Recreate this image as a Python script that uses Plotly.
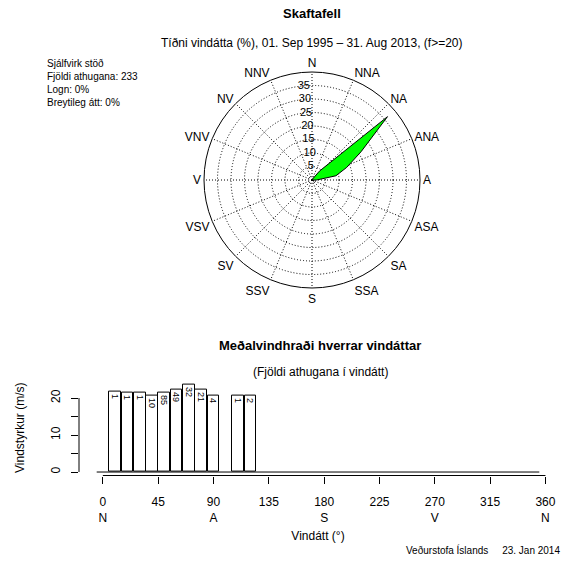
import plotly.graph_objects as go

# ---- data ----
compass_labels = ["N", "NNA", "NA", "ANA", "A", "ASA", "SA", "SSA",
                  "S", "SSV", "SV", "VSV", "V", "VNV", "NV", "NNV"]
compass_angles = [i * 22.5 for i in range(16)]
radial_ticks = [5, 10, 15, 20, 25, 30, 35]

directions = list(range(0, 360, 10))  # 36 bins
freq_pct = [0, 0.43, 0.43, 0.43, 4.3, 36.5, 21.0, 13.7, 9.0, 1.7, 0, 0.43, 0.86] + [0] * 23
mean_speed = [None, 21.7, 21.4, 21.4, 20.7, 21.6, 22.3, 23.5, 22.2, 20.7, None, 20.6, 20.6] + [None] * 23
counts = ["", "1", "1", "1", "10", "85", "49", "32", "21", "4", "", "1", "2"] + [""] * 23

x_ticks = [0, 45, 90, 135, 180, 225, 270, 315, 360]
x_ticktext = ["0<br>N", "45", "90<br>A", "135", "180<br>S", "225", "270<br>V", "315", "360<br>N"]
y_ticks = [0, 5, 10, 15, 20]
y_ticktext = ["0", "", "10", "", "20"]

FONT = "Liberation Sans, Arial, Helvetica, sans-serif"
W, H = 568, 561

fig = go.Figure()

# ---- wind rose ----
fig.add_trace(go.Scatterpolar(
    r=freq_pct + [freq_pct[0]], theta=directions + [directions[0]],
    mode="lines", fill="toself", fillcolor="#00FF00",
    line=dict(color="black", width=1), showlegend=False, hoverinfo="skip",
    subplot="polar"))
fig.add_trace(go.Scatterpolar(
    r=radial_ticks, theta=[355] * len(radial_ticks),
    mode="text", text=[str(v) for v in radial_ticks],
    textfont=dict(family=FONT, size=11, color="black"),
    showlegend=False, hoverinfo="skip", subplot="polar"))

# ---- bar chart ----
bar_width = 9.5
fig.add_trace(go.Scatter(
    x=[directions[0] - 5, directions[-1] + 5], y=[0, 0], mode="lines",
    line=dict(color="black", width=1), showlegend=False, hoverinfo="skip",
    xaxis="x", yaxis="y"))
fig.add_trace(go.Bar(
    x=directions, y=mean_speed, width=bar_width,
    marker=dict(color="white", line=dict(color="black", width=1)),
    text=counts, textposition="inside", insidetextanchor="end",
    textangle=90, constraintext="none",
    insidetextfont=dict(family=FONT, size=9, color="black"),
    showlegend=False, hoverinfo="skip", xaxis="x", yaxis="y"))

x_dom = [79 / W, 557 / W]
y_dom = [1 - 475.5 / H, 1 - 381.6 / H]

fig.update_layout(
    width=W, height=H, margin=dict(l=0, r=0, t=0, b=0),
    paper_bgcolor="white", plot_bgcolor="white",
    font=dict(family=FONT, size=12, color="black"),
    polar=dict(
        domain=dict(x=[204 / W, 420 / W], y=[1 - 288 / H, 1 - 72 / H]),
        bgcolor="white",
        angularaxis=dict(
            direction="clockwise", rotation=90,
            tickmode="array", tickvals=compass_angles, ticktext=compass_labels,
            ticks="", showline=True, linecolor="black", linewidth=1,
            showgrid=True, gridcolor="black", gridwidth=1, griddash="1px,2px",
            tickfont=dict(family=FONT, size=12, color="black")),
        radialaxis=dict(
            range=[0, 40], tickmode="array", tickvals=radial_ticks,
            showticklabels=False, ticks="", showline=False,
            showgrid=True, gridcolor="black", gridwidth=1, griddash="1px,2px"),
    ),
    xaxis=dict(
        domain=x_dom, range=[-19.4, 369.4], anchor="y",
        tickmode="array", tickvals=x_ticks, ticktext=x_ticktext,
        ticks="outside", ticklen=7, tickcolor="black", tickwidth=1,
        showline=False, showgrid=False, zeroline=False,
        tickfont=dict(family=FONT, size=12, color="black"),
        ticklabelstandoff=8,
        title=dict(text="Vindátt (°)", font=dict(family=FONT, size=12), standoff=8)),
    yaxis=dict(
        domain=y_dom, range=[-0.94, 24.44], anchor="x",
        tickmode="array", tickvals=y_ticks, ticktext=y_ticktext,
        ticks="outside", ticklen=7, tickcolor="black", tickwidth=1,
        tickangle=-90, showline=False, showgrid=False, zeroline=False,
        tickfont=dict(family=FONT, size=12, color="black"),
        ticklabelstandoff=6),
    bargap=0,
)

# axis lines spanning only the tick range (R style)
fig.add_shape(type="line", xref="x", yref="paper", x0=x_ticks[0], x1=x_ticks[-1],
              y0=y_dom[0], y1=y_dom[0], line=dict(color="black", width=1))
fig.add_shape(type="line", xref="paper", yref="y", x0=x_dom[0], x1=x_dom[0],
              y0=y_ticks[0], y1=y_ticks[-1], line=dict(color="black", width=1))

def ann(text, x, y, size=12, bold=False, xanchor="center", yanchor="middle", angle=0):
    fig.add_annotation(
        text=f"<b>{text}</b>" if bold else text, x=x / W, y=1 - y / H,
        xref="paper", yref="paper", showarrow=False, xanchor=xanchor,
        yanchor=yanchor, textangle=angle, align="left",
        font=dict(family=FONT, size=size, color="black"))

ann("Skaftafell", 312, 13, size=13, bold=True)
ann("Tíðni vindátta (%), 01. Sep 1995 – 31. Aug 2013, (f>=20)", 312, 43, size=12)
ann("Sjálfvirk stöð<br>Fjöldi athugana: 233<br>Logn: 0%<br>Breytileg átt: 0%",
    45, 56, size=10, xanchor="left", yanchor="top")
ann("Meðalvindhraði hverrar vindáttar", 320, 345, size=13, bold=True)
ann("(Fjöldi athugana í vindátt)", 320, 372, size=12)
ann("Vindstyrkur (m/s)", 20, 428, size=12, angle=-90)
ann("Veðurstofa Íslands&nbsp;&nbsp;&nbsp;&nbsp;&nbsp;23. Jan 2014", 562, 550, size=10, xanchor="right")

fig.write_html("out.html")
